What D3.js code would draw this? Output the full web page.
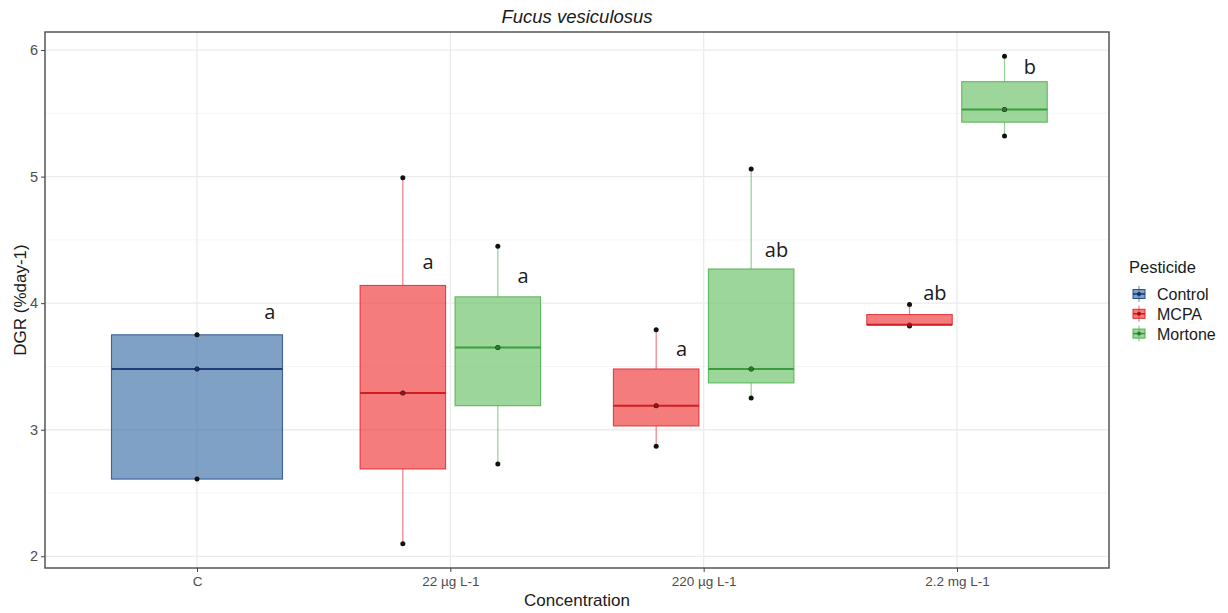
<!DOCTYPE html>
<html>
<head>
<meta charset="utf-8">
<script src="https://cdn.jsdelivr.net/npm/d3@7"></script>
<style>
  html, body { margin: 0; padding: 0; background: #fff; }
  svg { display: block; font-family: "Liberation Sans", Arial, sans-serif; }
</style>
</head>
<body>
<svg id="chart" width="1228" height="613"></svg>
<script>
// Concentration levels on the x axis
const categories = ["C", "22 µg L-1", "220 µg L-1", "2.2 mg L-1"];
const pesticides = ["Control", "MCPA", "Mortone"];
const yTicks = [2, 3, 4, 5, 6];

// One entry per box: concentration, pesticide and its five-number summary (DGR, %day-1)
const boxConcentration = ["C", "22 µg L-1", "22 µg L-1", "220 µg L-1", "220 µg L-1", "2.2 mg L-1", "2.2 mg L-1"];
const boxPesticide     = ["Control", "MCPA", "Mortone", "MCPA", "Mortone", "MCPA", "Mortone"];
const whiskerLow  = [2.61, 2.10, 2.73, 2.87, 3.25, 3.82, 5.32];
const boxQ1       = [2.61, 2.69, 3.19, 3.03, 3.37, 3.83, 5.43];
const boxMedian   = [3.48, 3.29, 3.65, 3.19, 3.48, 3.83, 5.53];
const boxQ3       = [3.75, 4.14, 4.05, 3.48, 4.27, 3.91, 5.75];
const whiskerHigh = [3.75, 4.99, 4.45, 3.79, 5.06, 3.99, 5.95];

// Replicate measurements drawn as points over each box
const replicates = [
  [3.75, 3.48, 2.61],
  [4.99, 3.29, 2.10],
  [4.45, 3.65, 2.73],
  [3.79, 3.19, 2.87],
  [5.06, 3.48, 3.25],
  [3.99, 3.82],
  [5.95, 5.53, 5.32]
];

// Significance letters and the height where each sits
const letters = ["a", "a", "a", "a", "ab", "ab", "b"];
const letterY = [3.874, 4.269, 4.158, 3.581, 4.364, 4.024, 5.81];

// Colours per pesticide
const fillColor   = { Control: "#2a62a0", MCPA: "#ed2525", Mortone: "#5cbb57" };
const strokeColor = { Control: "#264f8c", MCPA: "#e0282e", Mortone: "#4caf4a" };
const medianColor = { Control: "#1f3f7a", MCPA: "#cf1d22", Mortone: "#3a9c3a" };
const dotColor    = { Control: "#1a2f5a", MCPA: "#a01015", Mortone: "#2a7a2a" };

const svg = d3.select("#chart");
const panel = { left: 45, right: 1109, top: 32, bottom: 568 };

// Continuous y with 5% expansion on both ends of the data range
const allVals = whiskerLow.concat(whiskerHigh, replicates.flat());
const lo = d3.min(allVals), hi = d3.max(allVals);
const pad = (hi - lo) * 0.05;
const y = d3.scaleLinear().domain([lo - pad, hi + pad]).range([panel.bottom, panel.top]);

// Discrete x with 0.6 step of padding on each side
const x = d3.scalePoint().domain(categories).range([panel.left, panel.right]).padding(0.6);
const step = x.step();

// Grid
const grid = svg.append("g");
const minorTicks = d3.range(2.5, 6.5, 1).filter(v => v > y.domain()[0] && v < y.domain()[1]);
grid.selectAll("line.minor").data(minorTicks).join("line")
  .attr("x1", panel.left).attr("x2", panel.right)
  .attr("y1", d => y(d)).attr("y2", d => y(d))
  .attr("stroke", "#f2f2f2").attr("stroke-width", 0.8);
grid.selectAll("line.majorY").data(yTicks).join("line")
  .attr("x1", panel.left).attr("x2", panel.right)
  .attr("y1", d => y(d)).attr("y2", d => y(d))
  .attr("stroke", "#ebebeb").attr("stroke-width", 1.3);
grid.selectAll("line.majorX").data(categories).join("line")
  .attr("x1", d => x(d)).attr("x2", d => x(d))
  .attr("y1", panel.top).attr("y2", panel.bottom)
  .attr("stroke", "#ebebeb").attr("stroke-width", 1.3);

// Box records with dodged positions
const boxes = boxConcentration.map((c, i) => ({
  i, conc: c, pest: boxPesticide[i],
  lo: whiskerLow[i], q1: boxQ1[i], med: boxMedian[i], q3: boxQ3[i], hi: whiskerHigh[i],
  pts: replicates[i], letter: letters[i], ly: letterY[i]
}));
categories.forEach(c => {
  const group = boxes.filter(b => b.conc === c);
  const n = group.length;
  const slot = 0.75 * step / n;
  group.forEach((b, k) => {
    b.cx = x(c) + (k - (n - 1) / 2) * slot;
    b.w = slot * 0.9;
  });
});

const marks = svg.append("g");
boxes.forEach(b => {
  const g = marks.append("g");
  // whiskers
  g.append("line").attr("x1", b.cx).attr("x2", b.cx).attr("y1", y(b.hi)).attr("y2", y(b.q3))
    .attr("stroke", strokeColor[b.pest]).attr("stroke-opacity", 0.6).attr("stroke-width", 1.2);
  g.append("line").attr("x1", b.cx).attr("x2", b.cx).attr("y1", y(b.q1)).attr("y2", y(b.lo))
    .attr("stroke", strokeColor[b.pest]).attr("stroke-opacity", 0.6).attr("stroke-width", 1.2);
  // box
  g.append("rect").attr("x", b.cx - b.w / 2).attr("width", b.w)
    .attr("y", y(b.q3)).attr("height", Math.max(0.5, y(b.q1) - y(b.q3)))
    .attr("fill", fillColor[b.pest]).attr("fill-opacity", 0.6)
    .attr("stroke", strokeColor[b.pest]).attr("stroke-opacity", 0.85).attr("stroke-width", 1.1);
  // median
  g.append("line").attr("x1", b.cx - b.w / 2).attr("x2", b.cx + b.w / 2)
    .attr("y1", y(b.med)).attr("y2", y(b.med))
    .attr("stroke", medianColor[b.pest]).attr("stroke-width", 2);
  // replicate points
  g.selectAll("circle.pt").data(b.pts).join("circle")
    .attr("cx", b.cx).attr("cy", d => y(d)).attr("r", 2.5).attr("fill", "#111");
  // median marker
  g.append("circle").attr("cx", b.cx).attr("cy", y(b.med)).attr("r", 2.2).attr("fill", dotColor[b.pest]);
});

// Significance letters
svg.append("g").selectAll("text").data(boxes).join("text")
  .attr("x", b => x(b.conc) + (b.pest === "MCPA" ? -0.1875 : 0.1875) * step + 0.1 * step)
  .attr("y", b => y(b.ly))
  .attr("text-anchor", "middle")
  .attr("font-family", "'Open Sans', 'Noto Sans', sans-serif")
  .attr("font-size", 20).attr("fill", "#1a1a1a")
  .text(b => b.letter);

// Panel border
svg.append("rect").attr("x", panel.left).attr("y", panel.top)
  .attr("width", panel.right - panel.left).attr("height", panel.bottom - panel.top)
  .attr("fill", "none").attr("stroke", "#555").attr("stroke-width", 1.5);

// Axes
const yAxis = svg.append("g").attr("transform", `translate(${panel.left},0)`)
  .call(d3.axisLeft(y).tickValues(yTicks).tickFormat(d3.format("d")).tickSize(4).tickPadding(3));
const xAxis = svg.append("g").attr("transform", `translate(0,${panel.bottom})`)
  .call(d3.axisBottom(x).tickSize(4).tickPadding(4));
[yAxis, xAxis].forEach(a => {
  a.select(".domain").remove();
  a.selectAll(".tick line").attr("stroke", "#444");
  a.selectAll(".tick text").attr("fill", "#4d4d4d")
    .attr("font-family", "'Liberation Sans', Arial, sans-serif");
});
yAxis.selectAll(".tick text").attr("font-size", 14.5);
xAxis.selectAll(".tick text").attr("font-size", 13.5);

// Titles
svg.append("text").attr("x", (panel.left + panel.right) / 2).attr("y", 23)
  .attr("text-anchor", "middle").attr("font-size", 18.5).attr("font-style", "italic")
  .attr("fill", "#1a1a1a").text("Fucus vesiculosus");
svg.append("text").attr("x", (panel.left + panel.right) / 2).attr("y", 606)
  .attr("text-anchor", "middle").attr("font-size", 17).attr("fill", "#1a1a1a").text("Concentration");
svg.append("text").attr("transform", `translate(26,${(panel.top + panel.bottom) / 2}) rotate(-90)`)
  .attr("text-anchor", "middle").attr("font-size", 17).attr("fill", "#1a1a1a").text("DGR (%day-1)");

// Legend
const legend = svg.append("g");
legend.append("text").attr("x", 1129).attr("y", 273).attr("font-size", 16.5).attr("fill", "#1a1a1a").text("Pesticide");
pesticides.forEach((p, k) => {
  const cy = 294 + k * 19.8;
  const kx = 1139;
  const row = legend.append("g");
  row.append("line").attr("x1", kx).attr("x2", kx).attr("y1", cy - 8).attr("y2", cy + 8)
    .attr("stroke", strokeColor[p]).attr("stroke-opacity", 0.6).attr("stroke-width", 1.2);
  row.append("rect").attr("x", kx - 6).attr("y", cy - 4.5).attr("width", 12).attr("height", 9)
    .attr("fill", fillColor[p]).attr("fill-opacity", 0.6)
    .attr("stroke", strokeColor[p]).attr("stroke-width", 1);
  row.append("line").attr("x1", kx - 6).attr("x2", kx + 6).attr("y1", cy).attr("y2", cy)
    .attr("stroke", medianColor[p]).attr("stroke-width", 1.6);
  row.append("circle").attr("cx", kx).attr("cy", cy).attr("r", 2).attr("fill", dotColor[p]);
  row.append("text").attr("x", 1157).attr("y", cy + 6).attr("font-size", 16).attr("fill", "#1a1a1a").text(p);
});
</script>
</body>
</html>
